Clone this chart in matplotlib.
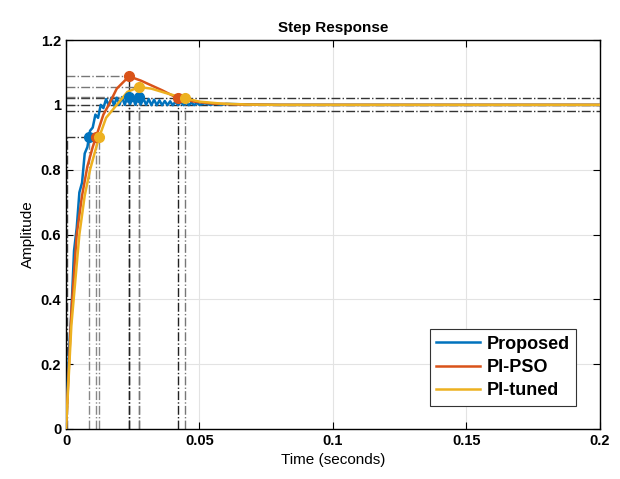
import matplotlib
matplotlib.use("Agg")
from matplotlib import pyplot as plt

plt.rcParams['font.family'] = ['Liberation Sans', 'DejaVu Sans']

# step response samples
t_prop = [0, 0.001, 0.002, 0.003, 0.004, 0.005, 0.006, 0.007, 0.008, 0.009,
          0.010, 0.011, 0.012, 0.013, 0.014, 0.015, 0.016, 0.017, 0.018, 0.019,
          0.020, 0.021, 0.022, 0.023, 0.024, 0.025, 0.026, 0.027, 0.028, 0.029,
          0.030, 0.031, 0.032, 0.033, 0.034, 0.035, 0.036, 0.037, 0.038, 0.039,
          0.040, 0.041, 0.042, 0.043, 0.044, 0.045, 0.046, 0.047, 0.048, 0.049,
          0.050, 0.052, 0.054, 0.056, 0.058, 0.060, 0.070, 0.080, 0.2]
y_prop = [0, 0.22, 0.36, 0.55, 0.62, 0.73, 0.76, 0.85, 0.87, 0.92,
          0.93, 0.97, 0.96, 1.00, 0.99, 1.018, 0.998, 1.022, 0.998, 1.022,
          1.0, 1.024, 1.0, 1.026, 1.002, 1.023, 1.0, 1.025, 1.001, 1.02,
          1.0, 1.018, 0.999, 1.016, 0.999, 1.014, 0.999, 1.012, 0.999, 1.011,
          0.999, 1.01, 0.999, 1.009, 0.999, 1.008, 0.999, 1.007, 0.999, 1.006,
          1.0, 1.005, 1.0, 1.004, 1.0, 1.003, 1.001, 1.0, 1.0]

t_pso = [0, 0.002, 0.004, 0.006, 0.008, 0.010, 0.012, 0.014, 0.016, 0.019,
         0.0236, 0.028, 0.032, 0.036, 0.042, 0.048, 0.055, 0.065, 0.08, 0.2]
y_pso = [0, 0.36, 0.60, 0.72, 0.81, 0.87, 0.92, 0.97, 1.0, 1.05,
         1.088, 1.075, 1.06, 1.045, 1.02, 1.01, 1.004, 1.001, 1.0, 1.0]

t_tuned = [0, 0.002, 0.005, 0.007, 0.009, 0.011, 0.0124, 0.015, 0.019, 0.023,
           0.0273, 0.032, 0.038, 0.0446, 0.050, 0.058, 0.068, 0.08, 0.2]
y_tuned = [0, 0.32, 0.60, 0.72, 0.80, 0.86, 0.90, 0.96, 1.0, 1.04,
           1.055, 1.05, 1.035, 1.02, 1.01, 1.004, 1.001, 1.0, 1.0]

names = ['Proposed', 'PI-PSO', 'PI-tuned']
colors = ['#0072BD', '#D95319', '#EDB120']

# characteristic points: rise (90%), peak, settling
rise_t = [0.0086, 0.0112, 0.0124]
peak_t = [0.0236, 0.0236, 0.0273]
peak_y = [1.025, 1.088, 1.055]
extra_t = [0.0273, 0.042, 0.0446]
extra_y = [1.023, 1.02, 1.02]
rise_start = 0.0005

fig = plt.figure(figsize=(6.2, 4.79), dpi=100)
ax = fig.add_axes([0.1065, 0.1044, 0.861, 0.812])

# reference lines
for y in [1.02, 1.0, 0.98]:
    ax.axhline(y, color='#333333', ls='-.', lw=1.0, zorder=1)
ax.plot([0, max(rise_t)], [0.9, 0.9], color='#333333', ls='-.', lw=1.0, zorder=1)
ax.vlines(rise_start, 0, 0.9, color='#444444', ls='-.', lw=1.0, zorder=1)
for i in range(3):
    ax.vlines(rise_t[i], 0, 0.9, color='#888888', ls='-.', lw=1.0, zorder=1)
    ax.plot([0, peak_t[i]], [peak_y[i], peak_y[i]], color='#777777', ls='-.', lw=1.0, zorder=1)
    ax.vlines(peak_t[i], 0, peak_y[i], color='#222222' if i < 2 else '#777777',
              ls='-.', lw=1.0, zorder=1)
    ax.vlines(extra_t[i], 0, extra_y[i], color='#222222' if i == 1 else '#777777',
              ls='-.', lw=1.0, zorder=1)

series = [(t_prop, y_prop), (t_pso, y_pso), (t_tuned, y_tuned)]
for (t, y), name, c in zip(series, names, colors):
    ax.plot(t, y, color=c, lw=1.8, label=name, zorder=3)

for i, c in enumerate(colors):
    ax.plot([rise_t[i], peak_t[i], extra_t[i]], [0.9, peak_y[i], extra_y[i]],
            'o', color=c, ms=7, ls='none', zorder=4)

ax.set_xlim(0, 0.2)
ax.set_ylim(0, 1.2)
ax.set_xticks([0, 0.05, 0.1, 0.15, 0.2])
ax.set_xticklabels(['0', '0.05', '0.1', '0.15', '0.2'])
ax.set_yticks([0, 0.2, 0.4, 0.6, 0.8, 1, 1.2])
ax.set_yticklabels(['0', '0.2', '0.4', '0.6', '0.8', '1', '1.2'])
ax.grid(True, color='#e3e3e3', lw=0.8)
ax.set_axisbelow(True)
ax.tick_params(direction='in', top=True, right=True, length=5, labelsize=10.5)
for lab in ax.get_xticklabels() + ax.get_yticklabels():
    lab.set_fontweight('bold')
for s in ax.spines.values():
    s.set_linewidth(1.0)

ax.set_xlabel('Time (seconds)', fontsize=11)
ax.set_ylabel('Amplitude', fontsize=11)
ax.set_title('Step Response', fontsize=11, fontweight='bold')

leg = ax.legend(loc='lower right', prop={'weight': 'bold', 'size': 13},
                fancybox=False, edgecolor='#333333', framealpha=1,
                handlelength=2.4, handletextpad=0.4, borderaxespad=1.3,
                labelspacing=0.35, borderpad=0.35)
leg.get_frame().set_linewidth(0.8)

fig.savefig('out.png', dpi=100)
